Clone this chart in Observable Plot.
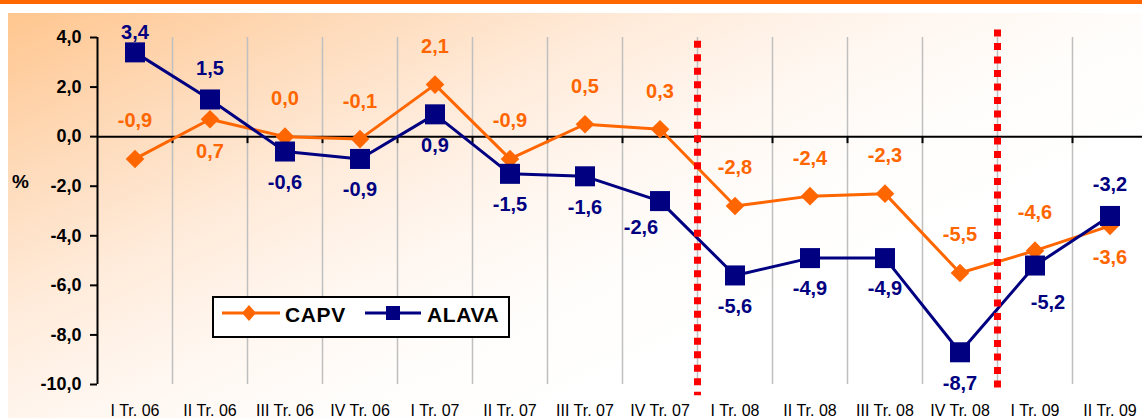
<!DOCTYPE html>
<html>
<head>
<meta charset="utf-8">
<script src="https://cdn.jsdelivr.net/npm/d3@7"></script>
<script src="https://cdn.jsdelivr.net/npm/@observablehq/plot@0.6"></script>
<style>
  html, body { margin: 0; padding: 0; width: 1142px; height: 418px; overflow: hidden; background: #fff; font-family: Arial, "Liberation Sans", sans-serif; }
  #wrap { position: relative; width: 1142px; height: 418px; }
  #bar { position: absolute; left: 0; top: 0; width: 1142px; height: 4px; background: #FF6600; }
  #panel { position: absolute; left: 8px; top: 13px; right: 0; bottom: 0;
    background: linear-gradient(155deg, #FFC68F 0%, #FEDBBB 18%, #FFEBDA 32%, #FFF6EF 45%, #FFFDFB 58%, #FFFFFF 70%); }
  #chart { position: absolute; left: 0; top: 0; }
  #pct { position: absolute; left: 12px; top: 172px; font: bold 19px Arial, "Liberation Sans", sans-serif; color: #000; line-height: 19px; }
  #legend { position: absolute; left: 212px; top: 296px; width: 294px; height: 38px; border: 2px solid #000; background: #fff; }
  g[aria-label^="y-axis"] text { font-size: 18px; font-weight: bold; fill: #000; font-family: Arial, "Liberation Sans", sans-serif; }
  g[aria-label^="y-axis"] path, g[aria-label^="y-axis"] line { stroke: #000; stroke-width: 2px; }
  g[aria-label^="x-axis"] text { font-size: 16px; fill: #000; font-family: Arial, "Liberation Sans", sans-serif; }
</style>
</head>
<body>
<div id="wrap">
  <div id="bar"></div>
  <div id="panel"></div>
  <div id="chart"></div>
  <div id="pct">%</div>
  <div id="legend"></div>
</div>
<script>
// ---- data ----
const quarters = ["I Tr. 06","II Tr. 06","III Tr. 06","IV Tr. 06","I Tr. 07","II Tr. 07","III Tr. 07","IV Tr. 07","I Tr. 08","II Tr. 08","III Tr. 08","IV Tr. 08","I Tr. 09","II Tr. 09"];
const capv  = [-0.9, 0.7, 0.0, -0.1, 2.1, -0.9, 0.5, 0.3, -2.8, -2.4, -2.3, -5.5, -4.6, -3.6];
const alava = [ 3.4, 1.5, -0.6, -0.9, 0.9, -1.5, -1.6, -2.6, -5.6, -4.9, -4.9, -8.7, -5.2, -3.2];
const capvLabelSide  = ["above","below","above","above","above","above","above","above","above","above","above","above","above","below"];
const alavaLabelSide = ["above-near","above","below","below","below","below","below","below-left","below","below","below","below","below-right","above"];
const yTicks = [-10, -8, -6, -4, -2, 0, 2, 4];
const seriesNames = ["CAPV", "ALAVA"];
const breakQuarters = ["I Tr. 08", "I Tr. 09"];
const breakFrom = [3.85, 4.3];
const breakTo = [-10.45, -10.2];

// ---- styling ----
const colCAPV = "#FF6600", colALAVA = "#000080";
const W = 1142, H = 418, mTop = 37, mBottom = 34, mLeft = 97, step = 75;
const pxPerUnit = (H - mTop - mBottom) / (yTicks[yTicks.length-1] - yTicks[0]);
const tickLen = 7 / pxPerUnit;

const fmt = v => v.toFixed(1).replace(".", ",");
const rows = quarters.map((q, i) => ({i, q, capv: capv[i], alava: alava[i], sc: capvLabelSide[i], sa: alavaLabelSide[i]}));
const boundaries = d3.range(quarters.length).map(i => i + 0.5);
const breaks = breakQuarters.map((q, k) => ({x: quarters.indexOf(q) - 0.5, from: breakFrom[k], to: breakTo[k]}));

const capvOff = {"above": [0, -38], "below": [0, 32]};
const alavaOff = {"above-near": [0, -20], "above": [0, -31], "below": [0, 31], "below-left": [-19, 27], "below-right": [13, 37]};

function labels(key, sideKey, offs, color) {
  return Object.entries(offs).map(([side, [dx, dy]]) =>
    Plot.text(rows.filter(d => d[sideKey] === side), {
      x: "i", y: key, text: d => fmt(d[key]), dx, dy,
      fill: color, fontSize: 20, fontWeight: "bold", fontFamily: "Arial, Liberation Sans, sans-serif"
    }));
}

const chart = Plot.plot({
  width: W, height: H,
  marginTop: mTop, marginBottom: mBottom, marginLeft: mLeft, marginRight: 0,
  style: {background: "none", overflow: "visible", fontFamily: "Arial, Liberation Sans, sans-serif"},
  x: {type: "linear", domain: [-0.5, quarters.length - 0.5], range: [mLeft, mLeft + step * quarters.length],
      ticks: d3.range(quarters.length), tickFormat: i => quarters[i], tickSize: 0, tickPadding: 20, label: null},
  y: {domain: [yTicks[0], yTicks[yTicks.length-1]], ticks: yTicks, tickFormat: fmt, tickSize: 7, tickPadding: 9, label: null},
  marks: [
    Plot.ruleX(boundaries, {x: d => d, y1: yTicks[0], y2: yTicks[yTicks.length-1], stroke: "#BFBFBF", strokeWidth: 1.5}),
    Plot.ruleX([-0.5], {y1: yTicks[0], y2: yTicks[yTicks.length-1], stroke: "#000", strokeWidth: 2}),
    Plot.ruleY([0], {stroke: "#000", strokeWidth: 2}),
    Plot.ruleX(boundaries, {x: d => d, y1: 0, y2: -tickLen, stroke: "#000", strokeWidth: 2}),
    Plot.line(rows, {x: "i", y: "capv", stroke: colCAPV, strokeWidth: 3}),
    Plot.dot(rows, {x: "i", y: "capv", symbol: "diamond2", r: 8.4, fill: colCAPV, stroke: "none"}),
    Plot.line(rows, {x: "i", y: "alava", stroke: colALAVA, strokeWidth: 3}),
    Plot.dot(rows, {x: "i", y: "alava", symbol: "square", r: 11.3, fill: colALAVA, stroke: "none"}),
    Plot.ruleX(breaks, {x: "x", y1: "from", y2: "to", stroke: "#FF0000", strokeWidth: 7, strokeDasharray: "7,6.5"}),
    ...labels("capv", "sc", capvOff, colCAPV),
    ...labels("alava", "sa", alavaOff, colALAVA)
  ]
});
document.getElementById("chart").appendChild(chart);

// ---- legend ----
const lg = d3.select("#legend").append("svg").attr("width", 294).attr("height", 38);
const legendItems = [
  {name: seriesNames[0], color: colCAPV, sym: "diamond", x0: 8, x1: 66, sx: 35, tx: 71},
  {name: seriesNames[1], color: colALAVA, sym: "square", x0: 151, x1: 207, sx: 179, tx: 213}
];
legendItems.forEach(it => {
  lg.append("line").attr("x1", it.x0).attr("x2", it.x1).attr("y1", 15).attr("y2", 15)
    .attr("stroke", it.color).attr("stroke-width", 3);
  if (it.sym === "square") {
    lg.append("rect").attr("x", it.sx - 7).attr("y", 8).attr("width", 14).attr("height", 14).attr("fill", it.color);
  } else {
    lg.append("path").attr("d", `M${it.sx},7L${it.sx+7},15L${it.sx},23L${it.sx-7},15Z`).attr("fill", it.color);
  }
  lg.append("text").attr("x", it.tx).attr("y", 23.5).text(it.name)
    .attr("font-family", "Arial, Liberation Sans, sans-serif").attr("font-weight", "bold")
    .attr("font-size", 21).attr("letter-spacing", 0.6).attr("fill", "#000");
});
</script>
</body>
</html>
